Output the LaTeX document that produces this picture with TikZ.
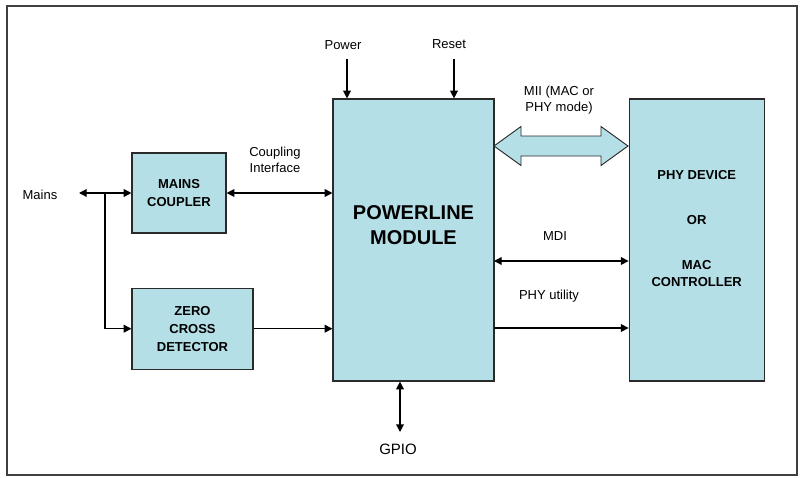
\documentclass[tikz,border=0pt]{standalone}
\usepackage{fontspec}
\setmainfont{Liberation Sans}
\usetikzlibrary{arrows.meta,positioning}
\definecolor{plBlue}{HTML}{B4DFE6}
\definecolor{plFrame}{HTML}{404040}
\definecolor{plEdge}{HTML}{2A2A2A}

\begin{document}
\begin{tikzpicture}[
  x=0.75pt,y=-0.75pt,
  >={Triangle[length=5.75pt,width=5.75pt]},
  block/.style={
    draw=plEdge,
    line width=0.9pt,
    fill=plBlue,
    inner sep=0pt,
    align=center,
    font=\fontsize{9.75}{13.5}\selectfont\bfseries
  },
  boxtext/.style={
    inner sep=0pt,
    align=center,
    font=\fontsize{9.75}{13}\selectfont\bfseries
  },
  sig/.style={
    inner sep=0pt,
    align=center,
    font=\fontsize{9.75}{12}\selectfont
  },
  wire/.style={line width=1pt},
  fatarrow/.style={
    draw=plEdge,
    line width=0.7pt,
    fill=plBlue,
    line join=miter
  }
]
  \useasboundingbox (0,0) rectangle (800,478);
  \draw[plFrame,line width=1pt] (7,6) rectangle (797,475);

  \node[block,minimum width=120.75pt,minimum height=211.5pt]
    (module) at (413.5,240) {};
  \node[boxtext,font=\fontsize{15}{18.75}\selectfont\bfseries]
    (moduletext) at ([yshift=11.25pt]module.center) {POWERLINE\\MODULE};
  \node[block,minimum width=101.25pt,minimum height=211.5pt,
    right=100.5pt of module] (phy) {};
  \node[boxtext] (phytext) at ([yshift=8.25pt]phy.center)
    {PHY DEVICE\\[20.25pt]OR\\[21pt]MAC\\CONTROLLER};

  \node[block,minimum width=70.5pt,minimum height=60pt]
    (coupler) at (179,193) {MAINS\\COUPLER};
  \node[block,minimum width=90.75pt,minimum height=60.75pt,
    below=40.5pt of coupler.south west,anchor=north west]
    (zero) {ZERO\\CROSS\\DETECTOR};

  \node[sig] (mains) at (40,195) {Mains};
  \node[sig] (coupling) at (275,160) {Coupling\\Interface};
  \node[sig] (power) at (343,45) {Power};
  \node[sig] (reset) at (449,44) {Reset};
  \node[sig] (mii) at (559,100) {MII (MAC or\\PHY mode)};
  \node[sig] (mdi) at (555,236) {MDI};
  \node[sig] (utility) at (549,296) {PHY utility};
  \node[sig,font=\fontsize{11.25}{13}\selectfont] (gpio) at (398,449) {GPIO};

  \coordinate (mainsend) at (79,193);
  \coordinate (tap) at (105,193);
  \coordinate (pwrtop) at (347,59);
  \coordinate (rsttop) at (454,59);
  \coordinate (mdiL) at (494,261);
  \coordinate (utilL) at (494,328);
  \coordinate (gpiotop) at (400,432);
  \coordinate (miiL) at (494,146);

  \draw[<->,wire] (mainsend)--(coupler.west);
  \draw[->,wire] (tap)|-(zero.west);
  \draw[<->,wire] (coupler.east)--(coupler.east -| module.west);
  \draw[->,wire] (zero.east)--(zero.east -| module.west);
  \draw[->,wire] (pwrtop)--(pwrtop |- module.north);
  \draw[->,wire] (rsttop)--(rsttop |- module.north);
  \draw[<->,wire] (mdiL)--(mdiL -| phy.west);
  \draw[->,wire] (utilL)--(utilL -| phy.west);
  \draw[<->,wire] (gpiotop |- module.south)--(gpiotop);

  \draw[fatarrow] (miiL) -- ++(27,-19.5) -- ++(0,9.5) -- ++(80,0)
    -- ++(0,-9.5) -- ++(27,19.5) -- ++(-27,19.5) -- ++(0,-9.5)
    -- ++(-80,0) -- ++(0,9.5) -- cycle;
\end{tikzpicture}
\end{document}
